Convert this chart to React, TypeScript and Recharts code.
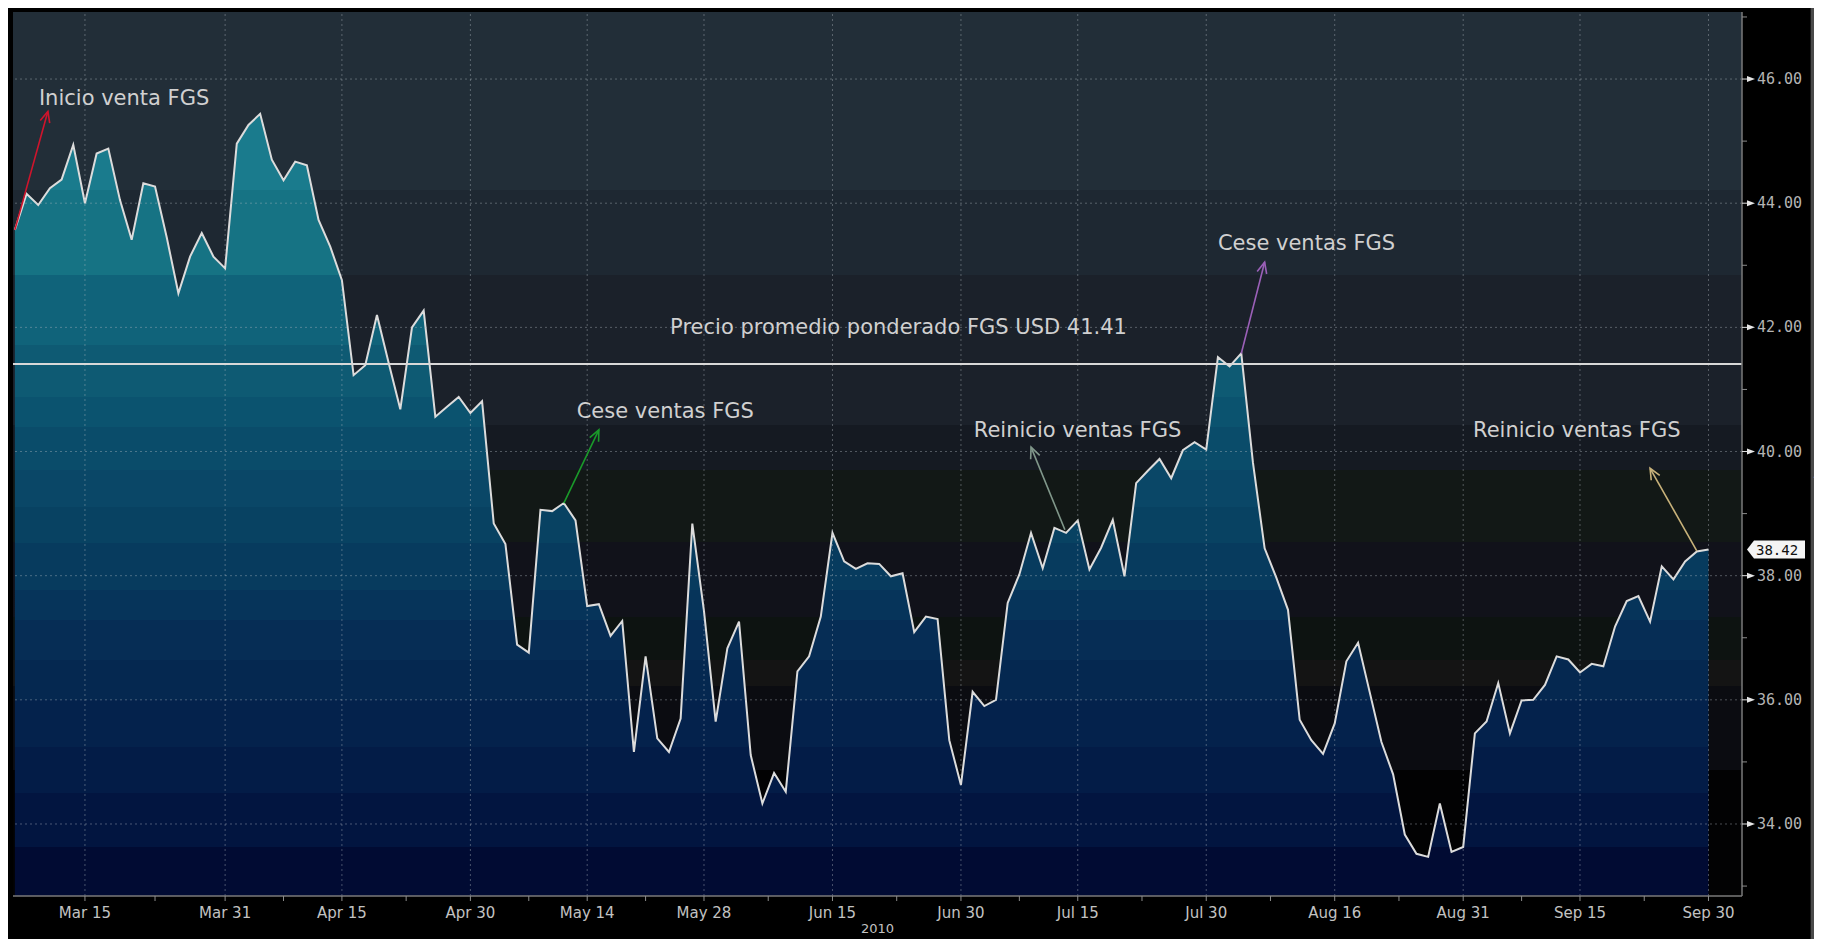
import React from 'react';
import {
  ComposedChart,
  Area,
  XAxis,
  YAxis,
  CartesianGrid,
  ReferenceLine,
  ReferenceDot,
} from 'recharts';

// Trading-day index relative to Mar 15, 2010 (first point = Mar 5, 2010)
const START_INDEX = -6;

const prices = [
  43.57, 44.15, 43.97, 44.24, 44.38, 44.94,
  44.0, 44.8, 44.88, 44.05, 43.41, 44.32, 44.27, 43.45, 42.55, 43.14,
  43.52, 43.14, 42.95, 44.96, 45.26, 45.44, 44.7, 44.37, 44.67, 44.61,
  43.73, 43.3, 42.76, 41.23, 41.39, 42.2, 41.43, 40.68, 42.0, 42.27,
  40.56, 40.72, 40.88, 40.62, 40.81, 38.84, 38.51, 36.89, 36.76, 39.06,
  39.04, 39.17, 38.89, 37.51, 37.54, 37.03, 37.27, 35.16, 36.7, 35.38,
  35.16, 35.7, 38.84, 37.43, 35.65, 36.83, 37.26, 35.11, 34.33, 34.82,
  34.52, 36.46, 36.7, 37.34, 38.69, 38.23, 38.11, 38.2, 38.19, 37.99,
  38.04, 37.09, 37.34, 37.3, 35.35, 34.63, 36.13, 35.9, 36.0, 37.56,
  38.02, 38.69, 38.12, 38.77, 38.69, 38.89, 38.1, 38.45, 38.9, 37.99,
  39.49, 39.69, 39.88, 39.57, 40.02, 40.15, 40.03, 41.52, 41.37, 41.58,
  39.82, 38.44, 37.97, 37.45, 35.68, 35.35, 35.13, 35.62, 36.62, 36.92,
  36.12, 35.32, 34.8, 33.83, 33.52, 33.47, 34.33, 33.55, 33.63, 35.46,
  35.65, 36.27, 35.46, 35.99, 36.0, 36.24, 36.7, 36.65, 36.44, 36.58,
  36.54, 37.18, 37.59, 37.67, 37.26, 38.15, 37.94, 38.23, 38.39, 38.42,
];

const tickIndex = [0, 12, 22, 33, 43, 53, 64, 75, 85, 96, 107, 118, 128, 139];
const tickLabels = [
  'Mar 15', 'Mar 31', 'Apr 15', 'Apr 30', 'May 14', 'May 28', 'Jun 15',
  'Jun 30', 'Jul 15', 'Jul 30', 'Aug 16', 'Aug 31', 'Sep 15', 'Sep 30',
];
const minorTickIndex = [6, 17, 27.5, 38, 48, 58.5, 69.5, 80, 90.5, 101.5, 112.5, 123, 133.5];
const yearLabel = '2010';

const yTicks = [34, 36, 38, 40, 42, 44, 46];
const yMinorTicks = [33, 35, 37, 39, 41, 43, 45, 47];

const avgPrice = 41.41;
const avgLabel = 'Precio promedio ponderado FGS USD 41.41';

const X_DOMAIN: [number, number] = [-6.16, 141.87];
const Y_DOMAIN: [number, number] = [32.84, 47.08];

type Note = {
  text: string;
  tx: number;
  ty: number;
  from: [number, number] | null;
  to: [number, number] | null;
  color: string;
};

const notes: Note[] = [
  { text: 'Inicio venta FGS', tx: -3.94, ty: 45.69, from: [-6, 43.57], to: [-3.17, 45.48], color: '#d0142c' },
  { text: avgLabel, tx: 50.1, ty: 42.0, from: null, to: null, color: '' },
  { text: 'Cese ventas FGS', tx: 42.1, ty: 40.65, from: [41, 39.17], to: [44.0, 40.35], color: '#1a9a2a' },
  { text: 'Reinicio ventas FGS', tx: 76.1, ty: 40.35, from: [83.9, 38.74], to: [81.0, 40.07], color: '#80978a' },
  { text: 'Cese ventas FGS', tx: 97.0, ty: 43.36, from: [99, 41.58], to: [101.0, 43.05], color: '#9b60b8' },
  { text: 'Reinicio ventas FGS', tx: 118.84, ty: 40.35, from: [138, 38.4], to: [134.0, 39.73], color: '#c8b27a' },
];

const data = prices.map((p, k) => ({ i: k + START_INDEX, price: p }));
const lastPrice = prices[prices.length - 1];

// gradient bands (offset fraction of plot height, color)
const bgBands: [number, string][] = [
  [0, '#222e38'],
  [0.2014, '#1e2832'],
  [0.2975, '#1b212a'],
  [0.4672, '#151a22'],
  [0.5181, '#121816'],
  [0.5995, '#11121a'],
  [0.6844, '#0d1311'],
  [0.733, '#141414'],
  [0.7624, '#0b0c11'],
  [0.8575, '#020203'],
];
const areaBands: [number, string][] = [
  [0, '#1a7b8d'],
  [0.2014, '#167384'],
  [0.2975, '#10637a'],
  [0.3767, '#0e5a73'],
  [0.4355, '#0b536f'],
  [0.4695, '#0a4c6a'],
  [0.5181, '#0a4767'],
  [0.56, '#084262'],
  [0.6007, '#073b5e'],
  [0.6538, '#06345a'],
  [0.6878, '#062d55'],
  [0.733, '#052850'],
  [0.7783, '#04224c'],
  [0.8314, '#031c47'],
  [0.8835, '#021540'],
  [0.9446, '#010b33'],
];

const bandStops = (bands: [number, string][]) => {
  const out: React.ReactElement[] = [];
  bands.forEach(([off, col], k) => {
    const end = k + 1 < bands.length ? bands[k + 1][0] : 1;
    out.push(<stop key={`a${k}`} offset={off} stopColor={col} />);
    out.push(<stop key={`b${k}`} offset={end} stopColor={col} />);
  });
  return out;
};

const CHART_W = 1802;
const CHART_H = 931;
const MARGIN = { top: 4, right: 0, bottom: 0, left: 5 };
const XAXIS_H = 43;
const YAXIS_W = 68;
const PLOT_TOP = MARGIN.top;
const PLOT_BOTTOM = CHART_H - XAXIS_H;

const FONT = '"DejaVu Sans", Verdana, sans-serif';
const MONO = '"DejaVu Sans Mono", monospace';

const XTick = (props: any) => {
  const { x, y, payload } = props;
  const k = tickIndex.indexOf(payload.value);
  return (
    <g>
      <line x1={x} y1={y} x2={x} y2={y + 5} stroke="#8c8c8c" strokeWidth={1} />
      {k >= 0 && (
        <text
          x={x}
          y={y + 17}
          textAnchor="middle"
          dominantBaseline="central"
          fill="#c2c2c2"
          fontSize={15}
          fontFamily={FONT}
        >
          {tickLabels[k]}
        </text>
      )}
    </g>
  );
};

const YTick = (props: any) => {
  const { x, y, payload } = props;
  const v = payload.value;
  if (!yTicks.includes(v)) {
    return <line x1={x} y1={y} x2={x + 5} y2={y} stroke="#8c8c8c" strokeWidth={1} />;
  }
  return (
    <g>
      <line x1={x} y1={y} x2={x + 6} y2={y} stroke="#e0e0e0" strokeWidth={1} />
      <polygon points={`${x + 5},${y - 3} ${x + 13},${y} ${x + 5},${y + 3}`} fill="#e6e6e6" />
      <text
        x={x + 15}
        y={y}
        dominantBaseline="central"
        fill="#b4b4b4"
        fontSize={15}
        fontFamily={MONO}
      >
        {v.toFixed(2)}
      </text>
    </g>
  );
};

const arrowShape = (color: string) => (p: any) => {
  const { x1, y1, x2, y2 } = p;
  if ([x1, y1, x2, y2].some((v) => typeof v !== 'number' || isNaN(v))) return <g />;
  const ang = Math.atan2(y2 - y1, x2 - x1);
  const L = 12;
  const a = 0.42;
  const ax = x2 - L * Math.cos(ang - a);
  const ay = y2 - L * Math.sin(ang - a);
  const bx = x2 - L * Math.cos(ang + a);
  const by = y2 - L * Math.sin(ang + a);
  return (
    <g>
      <line x1={x1} y1={y1} x2={x2} y2={y2} stroke={color} strokeWidth={1.6} />
      <polyline points={`${ax},${ay} ${x2},${y2} ${bx},${by}`} fill="none" stroke={color} strokeWidth={1.6} />
    </g>
  );
};

const textShape = (text: string) => (p: any) => (
  <text
    x={p.cx}
    y={p.cy}
    dominantBaseline="central"
    fill="#d0d0d0"
    fontSize={21}
    fontFamily={FONT}
  >
    {text}
  </text>
);

const LastLabel = (p: any) => {
  const vb = p.viewBox || {};
  const xr = (vb.x || 0) + (vb.width || 0);
  const y = vb.y || 0;
  const pts = `${xr + 5},${y} ${xr + 12},${y - 9} ${xr + 63},${y - 9} ${xr + 63},${y + 9} ${xr + 12},${y + 9}`;
  return (
    <g>
      <polygon points={pts} fill="#f4f4f4" />
      <text x={xr + 14} y={y} dominantBaseline="central" fill="#111" fontSize={14} fontFamily={MONO}>
        {lastPrice.toFixed(2)}
      </text>
    </g>
  );
};

const YearLabel = (p: any) => {
  const vb = p.viewBox || {};
  const cx = (vb.x || 0) + (vb.width || 0) / 2;
  const y = (vb.y || 0) + 32;
  return (
    <text x={cx} y={y} textAnchor="middle" dominantBaseline="central" fill="#c2c2c2" fontSize={13} fontFamily={FONT}>
      {yearLabel}
    </text>
  );
};

export default function App() {
  const allXTicks = [...tickIndex, ...minorTickIndex].sort((a, b) => a - b);
  const allYTicks = [...yTicks, ...yMinorTicks].sort((a, b) => a - b);
  return (
    <div style={{ width: 1814, height: CHART_H, background: '#000', display: 'flex', position: 'relative' }}>
      <style>{'body{overflow:hidden}'}</style>
      <ComposedChart width={CHART_W} height={CHART_H} data={data} margin={MARGIN}>
        <defs>
          <linearGradient id="bgGrad" x1="0" y1="0" x2="0" y2="1">
            {bandStops(bgBands)}
          </linearGradient>
          <linearGradient
            id="areaGrad"
            gradientUnits="userSpaceOnUse"
            x1="0"
            y1={PLOT_TOP}
            x2="0"
            y2={PLOT_BOTTOM}
          >
            {bandStops(areaBands)}
          </linearGradient>
        </defs>
        <CartesianGrid horizontal={false} vertical={false} fill="url(#bgGrad)" fillOpacity={1} stroke="none" />
        <XAxis
          dataKey="i"
          type="number"
          domain={X_DOMAIN}
          allowDataOverflow
          ticks={allXTicks}
          interval={0}
          height={XAXIS_H}
          tickSize={0}
          tickMargin={0}
          tickLine={false}
          tick={<XTick />}
          axisLine={{ stroke: '#7a7a7a', strokeWidth: 1.5 }}
          label={<YearLabel />}
        />
        <XAxis
          xAxisId="top"
          orientation="top"
          dataKey="i"
          type="number"
          domain={X_DOMAIN}
          allowDataOverflow
          height={0}
          tick={false}
          tickLine={false}
          axisLine={{ stroke: '#4e4e4e', strokeWidth: 3 }}
        />
        <YAxis
          orientation="right"
          type="number"
          domain={Y_DOMAIN}
          allowDataOverflow
          ticks={allYTicks}
          interval={0}
          width={YAXIS_W}
          tickSize={0}
          tickMargin={0}
          tickLine={false}
          tick={<YTick />}
          axisLine={{ stroke: '#7a7a7a', strokeWidth: 1.5 }}
        />
        <Area
          type="linear"
          dataKey="price"
          stroke="#dcdcdc"
          strokeWidth={2}
          fill="url(#areaGrad)"
          fillOpacity={1}
          dot={false}
          activeDot={false}
          isAnimationActive={false}
        />
        {tickIndex.map((t) => (
          <ReferenceLine
            key={`vx${t}`}
            x={t}
            stroke="#b4bcc4"
            strokeOpacity={0.4}
            strokeDasharray="2 3"
          />
        ))}
        {yTicks.map((t) => (
          <ReferenceLine
            key={`hy${t}`}
            y={t}
            stroke="#b4bcc4"
            strokeOpacity={0.4}
            strokeDasharray="2 3"
          />
        ))}
        <ReferenceLine y={avgPrice} stroke="#d8d8d8" strokeWidth={2} />
        <ReferenceLine y={lastPrice} stroke="none" label={<LastLabel />} />
        {notes
          .filter((n) => n.from && n.to)
          .map((n, k) => (
            <ReferenceLine
              key={`ar${k}`}
              segment={[
                { x: n.from![0], y: n.from![1] },
                { x: n.to![0], y: n.to![1] },
              ]}
              stroke={n.color}
              shape={arrowShape(n.color)}
            />
          ))}
        {notes.map((n, k) => (
          <ReferenceDot
            key={`tx${k}`}
            x={n.tx}
            y={n.ty}
            r={0}
            fill="none"
            stroke="none"
            shape={textShape(n.text)}
          />
        ))}
      </ComposedChart>
      <div style={{ width: 12, height: CHART_H, background: '#4a4a4a', borderLeft: '1px solid #1a1a1a', boxSizing: 'border-box', position: 'relative' }}>
        <div style={{ position: 'absolute', top: 462, left: 2, color: '#cfcfcf', fontSize: 12, fontFamily: FONT }}>‹</div>
      </div>
    </div>
  );
}
